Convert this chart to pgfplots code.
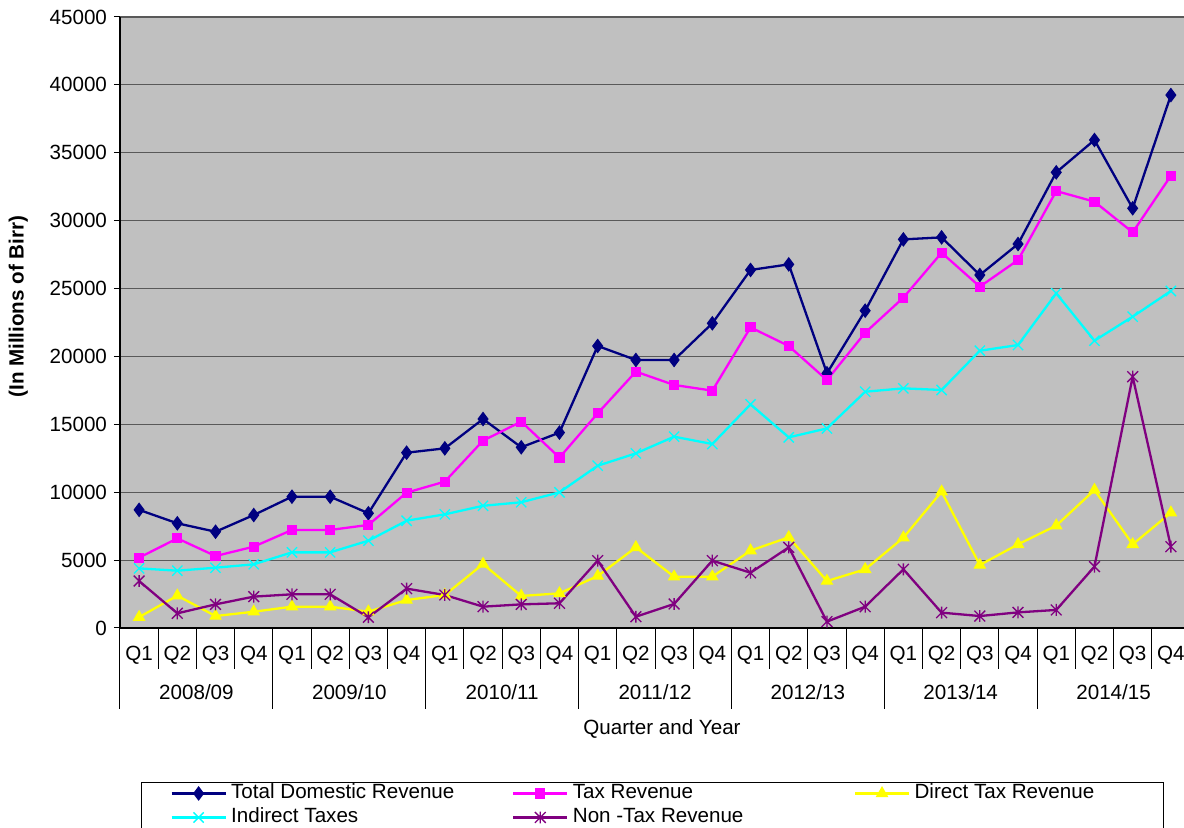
\documentclass[border=0pt]{standalone}
\usepackage{fontspec}
\setmainfont{Liberation Sans}
\usepackage{pgfplots}
\pgfplotsset{compat=1.18}
\usepackage{pgfplotstable}
\definecolor{plotbg}{HTML}{C0C0C0}
\definecolor{tdr}{HTML}{000080}
\definecolor{trv}{HTML}{FF00FF}
\definecolor{dtr}{HTML}{FFFF00}
\definecolor{itx}{HTML}{00FFFF}
\definecolor{ntr}{HTML}{800080}

\pgfdeclareplotmark{xstar}{%
  \pgfpathmoveto{\pgfqpoint{-\pgfplotmarksize}{-\pgfplotmarksize}}%
  \pgfpathlineto{\pgfqpoint{\pgfplotmarksize}{\pgfplotmarksize}}%
  \pgfpathmoveto{\pgfqpoint{-\pgfplotmarksize}{\pgfplotmarksize}}%
  \pgfpathlineto{\pgfqpoint{\pgfplotmarksize}{-\pgfplotmarksize}}%
  \pgfpathmoveto{\pgfqpoint{0pt}{-1.1\pgfplotmarksize}}%
  \pgfpathlineto{\pgfqpoint{0pt}{1.1\pgfplotmarksize}}%
  \pgfusepathqstroke}

\pgfplotstableread{
idx tdr trv dtr itx ntr
0 8700 5180 800 4390 3460
1 7710 6600 2380 4220 1080
2 7090 5300 880 4440 1740
3 8320 5990 1200 4690 2310
4 9670 7220 1570 5570 2480
5 9670 7220 1570 5570 2480
6 8450 7590 1200 6430 790
7 12910 9970 2060 7900 2900
8 13230 10780 2430 8370 2430
9 15390 13800 4710 9000 1570
10 13310 15200 2360 9260 1740
11 14390 12550 2550 9990 1820
12 20770 15810 3830 11950 4960
13 19740 18880 5940 12860 830
14 19740 17900 3780 14090 1770
15 22440 17480 3780 13550 4960
16 26370 22140 5700 16470 4070
17 26780 20770 6680 14040 5940
18 18760 18260 3460 14700 470
19 23370 21750 4320 17400 1570
20 28620 24330 6650 17650 4320
21 28770 27640 10040 17530 1130
22 26000 25140 4640 20420 880
23 28280 27100 6160 20840 1150
24 33560 32180 7540 24650 1330
25 35940 31400 10160 21160 4520
26 30910 29140 6160 22930 18510
27 39250 33310 8490 24820 5990
}\revdata

\begin{document}
\begin{tikzpicture}[font=\fontsize{10.3}{12.4}\selectfont]
\begin{axis}[
  at={(60pt,100pt)}, anchor=south west,
  scale only axis, width=535pt, height=305.5pt,
  xmin=-0.5, xmax=27.5, ymin=0, ymax=45000,
  ytick={0,5000,...,45000},
  scaled y ticks=false,
  /pgf/number format/assume math mode=true,
  y tick label style={/pgf/number format/1000 sep={}},
  xtick={0,...,27},
  xticklabels={Q1,Q2,Q3,Q4,Q1,Q2,Q3,Q4,Q1,Q2,Q3,Q4,Q1,Q2,Q3,Q4,Q1,Q2,Q3,Q4,Q1,Q2,Q3,Q4,Q1,Q2,Q3,Q4},
  x tick style={draw=none},
  xticklabel style={anchor=center, yshift=-10.5pt},
  tick align=outside, major tick length=3pt,
  y tick style={black, line width=0.5pt},
  ymajorgrids, grid style={black!65, line width=0.6pt},
  axis background/.style={fill=plotbg},
  axis x line*=bottom, axis y line*=left,
  axis line style={black, line width=0.6pt, -},
  clip=false,
  xlabel={Quarter and Year},
  xlabel style={at={(axis description cs:0.5065,-0.1653)}, anchor=center},
  ylabel={\bfseries (In Millions of Birr)},
  ylabel style={at={(axis description cs:-0.095,0.526)}, anchor=center},
  legend columns=3,
  legend cell align=left,
  legend image code/.code={\draw[mark repeat=2,mark phase=2,#1] plot coordinates {(0pt,0pt) (13.5pt,0pt) (27pt,0pt)};},
  legend style={at={(axis description cs:0.0196,-0.252)}, anchor=north west,
    draw=black, line width=0.5pt, fill=white,
    inner xsep=14.5pt, inner ysep=0.5pt, row sep=2pt,
    nodes={inner sep=0pt, text height=7.5pt, text depth=2.5pt},
    /tikz/every odd column/.append style={column sep=2.2pt},
    font=\fontsize{10.3}{12.4}\selectfont},
]
\addplot[color=tdr, line width=1.15pt, mark=diamond*, mark size=3.3pt, mark options={solid, fill=tdr, line width=0.5pt}] table[x=idx,y=tdr]{\revdata};
\addlegendentry{\makebox[140.5pt][l]{Total Domestic Revenue}}
\addplot[color=trv, line width=1.15pt, mark=square*, mark size=2.3pt, mark options={solid, fill=trv, line width=0.5pt}] table[x=idx,y=trv]{\revdata};
\addlegendentry{\makebox[140.5pt][l]{Tax Revenue}}
\addplot[color=dtr, line width=1.15pt, mark=triangle*, mark size=3.2pt, mark options={solid, fill=dtr, line width=0.5pt}] table[x=idx,y=dtr]{\revdata};
\addlegendentry{\makebox[110pt][l]{Direct Tax Revenue}}
\addplot[color=itx, line width=1.15pt, mark=x, mark size=3.6pt, mark options={solid, line width=0.65pt}] table[x=idx,y=itx]{\revdata};
\addlegendentry{\makebox[140.5pt][l]{Indirect Taxes}}
\addplot[color=ntr, line width=1.15pt, mark=xstar, mark size=2.7pt, mark options={solid, line width=0.65pt}] table[x=idx,y=ntr]{\revdata};
\addlegendentry{\makebox[140.5pt][l]{Non -Tax Revenue}}
\pgfplotsinvokeforeach{-0.5,0.5,...,27.5}{\draw[black, line width=0.5pt] (axis cs:#1,0) -- ++(0pt,-20.5pt);}
\pgfplotsinvokeforeach{-0.5,3.5,...,27.5}{\draw[black, line width=0.5pt] (axis cs:#1,0) -- ++(0pt,-40.5pt);}
\node at (axis cs:1.5,0) [yshift=-32pt] {2008/09};
\node at (axis cs:5.5,0) [yshift=-32pt] {2009/10};
\node at (axis cs:9.5,0) [yshift=-32pt] {2010/11};
\node at (axis cs:13.5,0) [yshift=-32pt] {2011/12};
\node at (axis cs:17.5,0) [yshift=-32pt] {2012/13};
\node at (axis cs:21.5,0) [yshift=-32pt] {2013/14};
\node at (axis cs:25.5,0) [yshift=-32pt] {2014/15};
\end{axis}
\pgfresetboundingbox
\useasboundingbox (0,0) rectangle (592pt,414pt);
\end{tikzpicture}
\end{document}
